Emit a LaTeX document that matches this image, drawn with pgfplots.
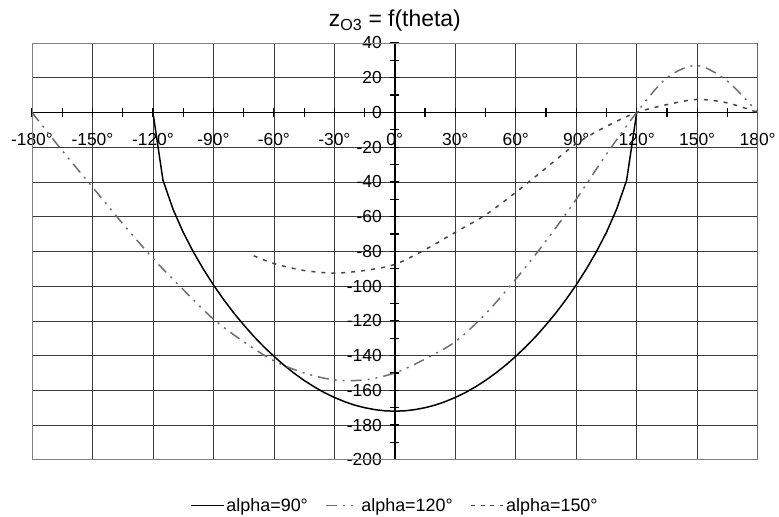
\documentclass[border=0pt]{standalone}
\usepackage{pgfplots}
\pgfplotsset{compat=1.18}
\usepackage{fontspec}
\setmainfont{Liberation Sans}

\definecolor{gridc}{RGB}{60,60,60}
\definecolor{midgray}{RGB}{110,110,110}
\definecolor{darkdot}{RGB}{70,70,70}

\begin{document}
\begin{tikzpicture}
\begin{axis}[
    width=726bp, height=417bp, scale only axis,
    xmin=-180, xmax=180, ymin=-200, ymax=40,
    axis lines=middle,
    axis line style={black, line width=1.6pt, -},
    xtick={-180,-150,...,180},
    minor xtick={-165,-135,...,165},
    ytick={-200,-180,...,40},
    minor ytick={-190,-170,...,30},
    tick style={black, line width=1.2pt},
    major tick length=9bp, minor tick length=9bp,
    tick align=center,
    grid=major,
    major grid style={gridc, line width=0.6pt},
    hide obscured x ticks=false, hide obscured y ticks=false,
    /pgf/number format/assume math mode=true,
    ticklabel style={font=\fontsize{17.5}{21}\selectfont},
    xticklabel={\pgfmathprintnumber{\tick}°},
    xticklabel style={anchor=north, yshift=-13bp},
    yticklabel style={anchor=east, xshift=-5bp},
    title={z\textsubscript{O3} = f(theta)},
    title style={font=\fontsize{23}{27}\selectfont, yshift=2bp},
    legend columns=3,
    legend style={at={(0.5,-0.082)}, anchor=north, draw=none,
        font=\fontsize{18}{21}\selectfont,
        /tikz/every even column/.append style={column sep=15bp}},
    legend image code/.code={\draw[#1] (0bp,0bp) -- (33bp,0bp);},
]
\draw[gray, line width=0.8pt] (rel axis cs:0,0) rectangle (rel axis cs:1,1);
\coordinate (tl) at (rel axis cs:0,1);
\coordinate (br) at (rel axis cs:1,0);

% alpha = 90
\addplot[black, line width=1.5pt] coordinates {
(-120,0) (-115,-39.1) (-110,-55.8) (-105,-69.0) (-100,-80.2) (-95,-90.2)
(-90,-99.3) (-85,-107.6) (-80,-115.3) (-75,-122.3) (-70,-128.9) (-65,-134.9)
(-60,-140.4) (-55,-145.5) (-50,-150.1) (-45,-154.3) (-40,-158.0) (-35,-161.3)
(-30,-164.1) (-25,-166.5) (-20,-168.5) (-15,-170.0) (-10,-171.1) (-5,-171.8)
(0,-172.0) (5,-171.8) (10,-171.1) (15,-170.0) (20,-168.5) (25,-166.5)
(30,-164.1) (35,-161.3) (40,-158.0) (45,-154.3) (50,-150.1) (55,-145.5)
(60,-140.4) (65,-134.9) (70,-128.9) (75,-122.3) (80,-115.3) (85,-107.6)
(90,-99.3) (95,-90.2) (100,-80.2) (105,-69.0) (110,-55.8) (115,-39.1) (120,0)};
\addlegendentry{alpha=90°}

% alpha = 120
\addplot[midgray, line width=1.5pt, smooth,
    dash pattern=on 11bp off 6bp on 2bp off 6bp on 2bp off 6bp] coordinates {
(-180,0) (-165,-22) (-150,-43) (-135,-64) (-120,-84) (-105,-102)
(-90,-119) (-75,-132) (-60,-143) (-45,-150) (-30,-154) (-15,-154)
(0,-150) (15,-142) (30,-132) (45,-116) (60,-96) (75,-74)
(90,-50) (105,-24) (120,0) (135,20) (150,27) (165,18) (180,0)};
\addlegendentry{alpha=120°}

% alpha = 150
\addplot[darkdot, line width=1.5pt, smooth,
    dash pattern=on 4bp off 6bp] coordinates {
(-70,-82.5) (-60,-87) (-45,-91) (-30,-92.5) (-15,-91) (0,-87.5)
(15,-79) (30,-69) (45,-59) (60,-46) (75,-32) (90,-18)
(105,-8) (120,0) (135,4.5) (150,7.5) (165,5.5) (180,0)};
\addlegendentry{alpha=150°}
\end{axis}
% page margins as in the reference
\path (tl) ++(-32bp,43bp) (br) ++(21bp,-57bp);
\end{tikzpicture}
\end{document}
